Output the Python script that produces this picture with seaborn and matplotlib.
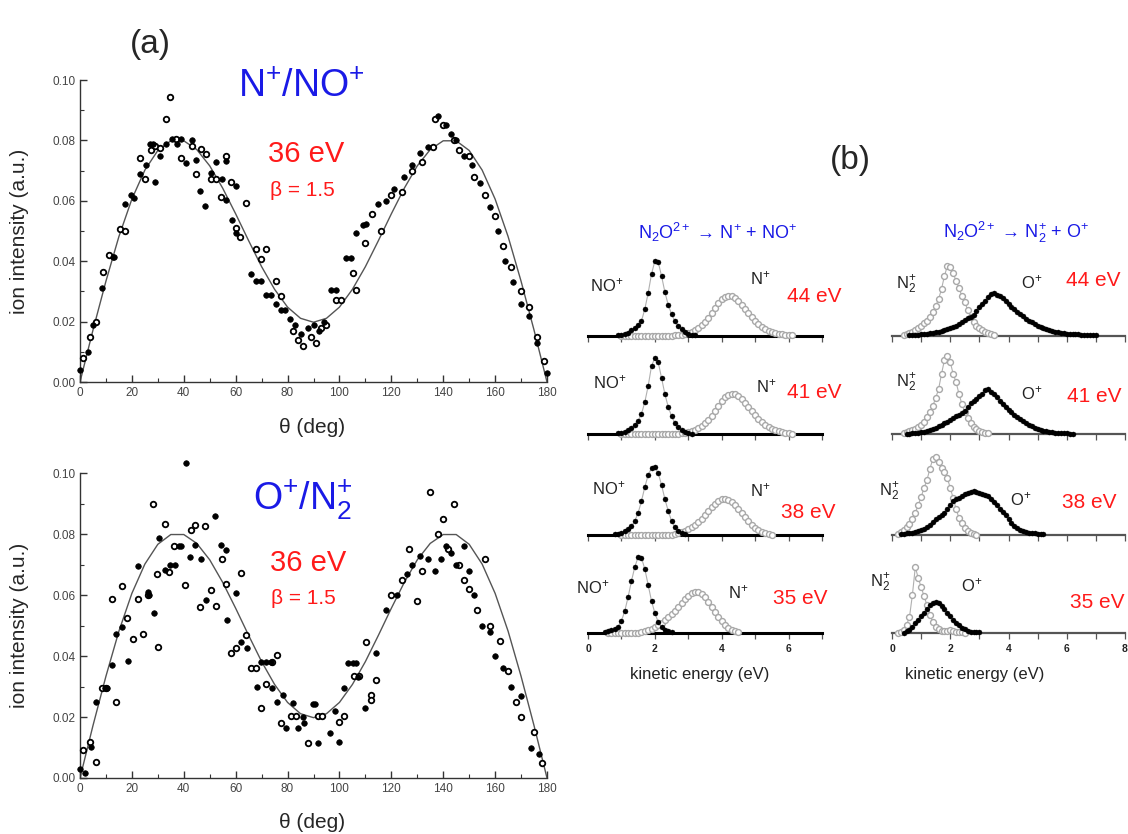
import numpy as np
import pandas as pd
import matplotlib
matplotlib.use("Agg")
import matplotlib.pyplot as plt
from matplotlib.ticker import MultipleLocator
import seaborn as sns

# ---------------- (a) angular distributions at 36 eV ----------------
fit_theta = list(range(0, 181, 5))
fit_val = [0.0, 0.0172, 0.0334, 0.0482, 0.0606, 0.0702, 0.0767, 0.0799, 0.0799,
           0.0770, 0.0716, 0.0642, 0.0557, 0.0468, 0.0382, 0.0307, 0.0248, 0.0211,
           0.0198, 0.0211, 0.0248, 0.0307, 0.0382, 0.0468, 0.0557, 0.0642, 0.0716,
           0.0770, 0.0799, 0.0799, 0.0767, 0.0702, 0.0606, 0.0482, 0.0334, 0.0172, 0.0]

# N+/NO+ channel (theta, intensity)
nno_filled = [(0, 0.004), (3, 0.010), (5, 0.019), (8.6, 0.0312), (12.8, 0.0414), (13.2, 0.0414),
              (17.3, 0.0591), (19.5, 0.0621), (20.8, 0.0611), (23.1, 0.0688), (25.6, 0.072),
              (26.9, 0.0787), (28.0, 0.0787), (29.1, 0.0664), (31.0, 0.075), (33.0, 0.0787),
              (35.3, 0.0806), (37.2, 0.079), (39.1, 0.0806), (40.8, 0.0725), (43.0, 0.080),
              (44.6, 0.0734), (46.2, 0.0632), (48.1, 0.0583), (50.3, 0.0693), (52.3, 0.0728),
              (54.9, 0.0674), (56.2, 0.0732), (56.4, 0.0602), (58.6, 0.0536), (60.3, 0.0649),
              (60.3, 0.0492), (66.0, 0.0359), (67.9, 0.0335), (69.9, 0.0335), (71.8, 0.0288),
              (73.7, 0.0288), (75.4, 0.026), (77.6, 0.024), (79.2, 0.024), (81, 0.021),
              (83, 0.019), (85, 0.016), (88, 0.018), (90, 0.019), (92, 0.017), (94, 0.020),
              (96.8, 0.0304), (98.7, 0.0304), (102.6, 0.041), (104.5, 0.041), (106.4, 0.0492),
              (109.0, 0.0519), (110.3, 0.0525), (114.7, 0.0591), (118, 0.060), (121, 0.064),
              (125, 0.068), (128, 0.072), (131, 0.076), (134, 0.078), (138, 0.088), (141, 0.085),
              (143, 0.082), (145, 0.080), (148, 0.075), (151, 0.072), (154, 0.066), (158, 0.058),
              (161, 0.050), (164, 0.040), (167, 0.033), (170, 0.026), (173, 0.022), (176, 0.013),
              (180, 0.003)]
nno_open = [(1, 0.008), (4, 0.015), (6, 0.020), (8.7, 0.0365), (11.2, 0.0422), (15.4, 0.0506),
            (17.3, 0.050), (23.1, 0.0743), (25.0, 0.0671), (27.2, 0.077), (28.8, 0.0783),
            (31.0, 0.0774), (33.0, 0.0872), (34.6, 0.0943), (37.0, 0.0806), (39.1, 0.0743),
            (43.0, 0.0783), (44.6, 0.069), (46.5, 0.0773), (48.7, 0.0756), (50.4, 0.0673),
            (52.6, 0.0673), (54.5, 0.0613), (56.4, 0.0748), (58.3, 0.0662), (60.0, 0.051),
            (61.8, 0.048), (64.1, 0.0593), (67.9, 0.0441), (69.9, 0.0409), (71.5, 0.0441),
            (75.6, 0.0335), (77.6, 0.0285), (82, 0.017), (84, 0.014), (86, 0.012), (89, 0.015),
            (91, 0.013), (93, 0.018), (95, 0.019), (98.7, 0.0271), (100.6, 0.0271),
            (105.1, 0.0361), (106.4, 0.0304), (110.0, 0.0462), (112.4, 0.0555), (116, 0.050),
            (120, 0.062), (124, 0.063), (128, 0.070), (132, 0.073), (136, 0.078), (137, 0.087),
            (140, 0.085), (144, 0.080), (146, 0.077), (150, 0.075), (152, 0.068), (156, 0.062),
            (160, 0.055), (163, 0.045), (166, 0.038), (170, 0.030), (173, 0.025), (176, 0.015),
            (179, 0.007)]

# O+/N2+ channel (theta, intensity)
on_filled = [(0, 0.003), (1.9, 0.0015), (4.1, 0.0103), (6.2, 0.025), (9.6, 0.0295), (10.5, 0.0295),
             (12.2, 0.037), (13.8, 0.0472), (16.3, 0.0494), (18.6, 0.0385), (22.4, 0.0695),
             (26.3, 0.0612), (26.5, 0.060), (28.6, 0.0542), (30.5, 0.0786), (32.7, 0.0682),
             (34.6, 0.0698), (36.5, 0.0698), (38.1, 0.0762), (38.8, 0.0762), (40.8, 0.1035),
             (42.3, 0.0724), (44.2, 0.0766), (46.8, 0.072), (48.5, 0.0584), (52.2, 0.0859),
             (54.5, 0.0766), (56.4, 0.0748), (56.5, 0.052), (60.3, 0.0606), (62.2, 0.0447),
             (64.4, 0.0425), (68.2, 0.0299), (69.9, 0.0381), (71.8, 0.0381), (73.7, 0.0381),
             (74.1, 0.0294), (76.0, 0.025), (78.2, 0.0272), (79.5, 0.0163), (82.0, 0.0245),
             (84.0, 0.0163), (86.0, 0.0201), (86.5, 0.0181), (89.7, 0.0242), (90.4, 0.0242),
             (91.7, 0.0116), (96.2, 0.0147), (98.1, 0.0221), (99.7, 0.0119), (101.9, 0.0294),
             (103.2, 0.0378), (105.1, 0.0378), (106.4, 0.0378), (107.0, 0.033), (110.0, 0.0229),
             (114.1, 0.041), (118, 0.055), (122, 0.060), (126, 0.067), (128, 0.070), (131, 0.073),
             (134, 0.072), (137, 0.068), (139, 0.072), (141, 0.076), (143, 0.074), (145, 0.070),
             (148, 0.076), (150, 0.068), (152, 0.060), (155, 0.050), (158, 0.048), (160, 0.040),
             (163, 0.036), (166, 0.030), (170, 0.027), (174, 0.010), (177, 0.008)]
on_open = [(1.0, 0.0092), (3.8, 0.0119), (6.2, 0.0053), (8.3, 0.0295), (10.0, 0.0295),
           (12.2, 0.0589), (13.8, 0.025), (16.0, 0.063), (18.2, 0.0526), (20.3, 0.0456),
           (22.2, 0.0589), (24.1, 0.0474), (26.4, 0.0599), (28.2, 0.090), (29.5, 0.0668),
           (30.1, 0.043), (32.7, 0.0833), (34.4, 0.0676), (36.2, 0.0762), (40.4, 0.0633),
           (42.6, 0.0813), (44.2, 0.083), (46.4, 0.0562), (48.3, 0.0827), (50.4, 0.0616),
           (52.3, 0.0565), (54.9, 0.072), (56.2, 0.0638), (58.3, 0.0409), (60.3, 0.0428),
           (62.2, 0.0674), (64.1, 0.0469), (66.0, 0.036), (67.9, 0.036), (69.9, 0.0229),
           (71.8, 0.0307), (74.1, 0.0381), (76.0, 0.0403), (77.6, 0.0181), (81.4, 0.0203),
           (83.3, 0.0203), (87.8, 0.0116), (91.7, 0.0203), (93.3, 0.0203), (99.7, 0.0183),
           (101.7, 0.0203), (105.8, 0.0334), (107.7, 0.0334), (110.3, 0.0447), (112.2, 0.0272),
           (112.2, 0.0256), (114.1, 0.0321), (120, 0.060), (124, 0.065), (127, 0.075),
           (130, 0.058), (132, 0.068), (135, 0.094), (138, 0.080), (140, 0.085), (142, 0.075),
           (144, 0.090), (146, 0.070), (148, 0.065), (150, 0.062), (153, 0.055), (156, 0.072),
           (158, 0.050), (162, 0.045), (165, 0.035), (168, 0.025), (170, 0.020), (175, 0.015),
           (178, 0.005)]

# ---------------- (b) kinetic energy release, (start eV, 0.1 eV bins) ----------------
energies = ["44 eV", "41 eV", "38 eV", "35 eV"]
no_start = [0.9, 0.9, 0.8, 0.5]
no_vals = [
    [1, 1, 2, 3, 6, 8, 11, 15, 27, 43, 62, 75, 74, 60, 44, 31, 22, 15, 10, 7, 4, 2, 1, 0.5],
    [1, 1, 2, 4, 6, 9, 13, 20, 32, 48, 68, 76, 72, 56, 40, 27, 18, 11, 7, 4, 2, 1, 0.5],
    [1, 1, 2, 4, 6, 9, 14, 22, 34, 48, 60, 67, 68, 62, 50, 36, 24, 14, 8, 4, 2, 1],
    [1, 2, 3, 4, 6, 12, 22, 36, 52, 66, 76, 75, 64, 48, 32, 20, 11, 6, 3, 2, 1],
]
n_start = [1.0, 1.0, 1.0, 0.6]
n_vals = [
    [0, 0, 0, 0, 0, 0, 0, 0, 0, 0, 0, 0, 0, 0, 0, 0, 0.5, 1, 1, 2, 3, 4, 6, 8, 11, 14, 18, 23, 28,
     33, 37, 39, 40, 40, 38, 35, 31, 27, 23, 19, 15, 12, 9, 7, 5, 4, 3, 2, 1.5, 1, 1, 0.5],
    [0, 0, 0, 0, 0, 0, 0, 0, 0, 0, 0, 0, 0, 0, 0, 0, 0, 0.5, 1, 1, 2, 3, 4, 6, 8, 11, 14, 18, 23,
     28, 33, 37, 39, 40, 40, 38, 35, 31, 27, 23, 19, 15, 12, 9, 7, 5, 4, 3, 2, 1.5, 1, 0.5],
    [0, 0, 0, 0, 0, 0, 0, 0, 0, 0, 0, 0, 0, 0, 0, 0.5, 1, 2, 3, 4, 6, 8, 10, 13, 16, 20, 24, 28,
     31, 34, 36, 36, 35, 33, 30, 26, 22, 18, 14, 10, 7, 5, 3, 2, 1, 0.5],
    [0, 0, 0, 0, 0, 0, 0, 0, 0, 0, 1, 2, 3, 4, 6, 8, 10, 13, 16, 19, 22, 26, 30, 34, 37, 40, 41,
     41, 39, 36, 31, 26, 21, 16, 12, 8, 5, 3, 2, 1],
]
n2_start = [0.4, 0.4, 0.2, 0.2]
n2_vals = [
    [1, 2, 3, 4, 6, 8, 10, 13, 15, 19, 24, 30, 37, 47, 60, 70, 69, 63, 55, 48, 40, 34, 26, 19,
     14, 10, 8, 6, 4, 3, 2, 1],
    [1, 2, 3, 4, 5, 7, 9, 12, 17, 22, 28, 36, 45, 60, 74, 78, 72, 60, 52, 40, 30, 22, 16, 11, 7,
     5, 3, 2, 1, 1],
    [1, 3, 5, 8, 11, 16, 22, 30, 38, 47, 55, 66, 76, 78, 73, 67, 63, 57, 47, 37, 26, 17, 12, 7,
     4, 2, 1, 0.5],
    [0.5, 1, 3, 8, 16, 38, 66, 55, 46, 37, 28, 18, 11, 6, 4, 2, 2, 2, 3, 2, 1, 1, 1, 0.5],
]
o_start = [0.6, 0.5, 0.3, 0.4]
o_vals = [
    [0.5, 0.5, 1, 1, 1.5, 2, 2, 2.5, 3, 3.5, 4, 5, 6, 7, 8, 9, 10, 12, 14, 16, 18, 19, 21, 25, 29,
     32, 35, 39, 42, 43, 41, 40, 38, 35, 32, 29, 27, 24, 22, 20, 17, 15, 14, 12, 10, 9, 8, 7, 6,
     5, 4, 4, 3, 3, 2, 2, 2, 1.5, 1.5, 1, 1, 1, 1, 0.5, 0.5],
    [0.5, 0.5, 1, 1, 1.5, 2, 2.5, 3, 4, 5, 6, 8, 9, 11, 12, 14, 16, 18, 19, 21, 23, 27, 31, 33, 35,
     38, 40, 44, 45, 42, 40, 37, 33, 30, 27, 24, 22, 19, 17, 15, 13, 11, 9, 8, 6, 5, 4, 3, 3, 2,
     2, 1.5, 1.5, 1, 1, 1, 0.5, 0.5],
    [1, 1.5, 2, 2, 2.5, 3, 4, 5, 6, 8, 10, 13, 16, 18, 20, 22, 26, 30, 34, 36, 37, 39, 41, 42, 43,
     44, 43, 42, 41, 40, 39, 36, 33, 30, 26, 23, 20, 16, 12, 9, 7, 5, 4, 3, 2.5, 2, 2, 1.5, 1.5, 1],
    [0.5, 2, 3, 6, 10, 13, 17, 20, 24, 28, 30, 31, 30, 27, 24, 20, 17, 13, 10, 8, 5, 4, 2, 1.5, 1,
     1, 1],
]


def bins(start, vals):
    return pd.DataFrame({"ke": start + 0.1 * np.arange(len(vals)), "y": vals})


def pairs(points):
    return pd.DataFrame(points, columns=["theta", "val"])


W, H = 1128, 834
sns.set_theme(style="white")
plt.rcParams["font.family"] = ["Liberation Sans", "DejaVu Sans"]
plt.rcParams["mathtext.fontset"] = "custom"
plt.rcParams["mathtext.rm"] = "Liberation Sans"
plt.rcParams["mathtext.it"] = "Liberation Sans:italic"
plt.rcParams["mathtext.bf"] = "Liberation Sans:bold"

fig = plt.figure(figsize=(W / 100, H / 100), dpi=100)
fig.patch.set_facecolor("white")


def px_axes(x0, x1, ytop, ybot):
    return fig.add_axes([x0 / W, 1 - ybot / H, (x1 - x0) / W, (ybot - ytop) / H])


def ftext(x, y, s, **kw):
    fig.text(x / W, 1 - y / H, s, **kw)


BLUE = "#1a1ae6"
RED = "#ff1a1a"

# ---------------- left column ----------------
for (ytop, ybot, filled, opened) in [(62, 382, nno_filled, nno_open),
                                     (455, 778, on_filled, on_open)]:
    ax = px_axes(80, 547, ytop, ybot)
    ax.set_facecolor("none")
    sns.lineplot(x=fit_theta, y=fit_val, ax=ax, color="#555555", lw=1.0)
    df = pairs(opened)
    sns.scatterplot(data=df, x="theta", y="val", ax=ax, color="white", edgecolor="black",
                    linewidth=1.3, s=16, clip_on=False, zorder=3)
    df = pairs(filled)
    sns.scatterplot(data=df, x="theta", y="val", ax=ax, color="black", edgecolor="black",
                    linewidth=0.5, s=16, clip_on=False, zorder=4)
    ax.set_xlim(0, 180)
    ax.set_ylim(0, 0.106)
    for s in ["top", "right"]:
        ax.spines[s].set_visible(False)
    for s in ["left", "bottom"]:
        ax.spines[s].set_color("#333333")
        ax.spines[s].set_linewidth(1.0)
    ax.spines["left"].set_bounds(0, 0.10)
    ax.xaxis.set_major_locator(MultipleLocator(20))
    ax.xaxis.set_minor_locator(MultipleLocator(10))
    ax.yaxis.set_major_locator(MultipleLocator(0.02))
    ax.yaxis.set_minor_locator(MultipleLocator(0.01))
    ax.set_yticks([0, 0.02, 0.04, 0.06, 0.08, 0.10])
    ax.set_yticklabels(["0.00", "0.02", "0.04", "0.06", "0.08", "0.10"])
    ax.tick_params(which="major", direction="in", length=5, width=1, colors="#333333",
                   labelsize=8.5, labelcolor="#444444", bottom=True, left=True)
    ax.tick_params(which="minor", direction="in", length=3, width=0.8, colors="#333333",
                   bottom=True, left=True)
    ax.set_xlabel("")
    ax.set_ylabel("")

ftext(20, 231, "ion intensity (a.u.)", rotation=90, fontsize=15, ha="center", va="center")
ftext(20, 625, "ion intensity (a.u.)", rotation=90, fontsize=15, ha="center", va="center")
ftext(312, 427, "θ (deg)", fontsize=15, ha="center", va="center")
ftext(312, 823, "θ (deg)", fontsize=15, ha="center", va="center")

ftext(150, 45, "(a)", fontsize=24, ha="center", va="center")
ftext(850, 160, "(b)", fontsize=24, ha="center", va="center")

ftext(238, 87, "N$^{+}$/NO$^{+}$", fontsize=27, color=BLUE, ha="left", va="center")
ftext(268, 154, "36 eV", fontsize=21, color=RED, ha="left", va="center")
ftext(270, 190, "β = 1.5", fontsize=15, color=RED, ha="left", va="center")
ftext(253, 500, "O$^{+}$/N$_{2}^{+}$", fontsize=27, color=BLUE, ha="left", va="center")
ftext(270, 563, "36 eV", fontsize=21, color=RED, ha="left", va="center")
ftext(271, 598, "β = 1.5", fontsize=15, color=RED, ha="left", va="center")

# ---------------- right columns ----------------
baselines = [336, 434, 535, 633]
ftext(718, 232, "N$_2$O$^{2+}$ → N$^{+}$ + NO$^{+}$", fontsize=13, color=BLUE,
      ha="center", va="center")
ftext(1016, 232, "N$_2$O$^{2+}$ → N$_2^{+}$ + O$^{+}$", fontsize=13, color=BLUE,
      ha="center", va="center")

no_lab = [(607, 285), (610, 382), (609, 488), (593, 587)]
n_lab = [(760, 278), (766, 386), (760, 490), (738, 592)]
e_lab_l = [(787, 297), (787, 393), (781, 513), (773, 598)]
n2_lab = [(906, 285), (906, 383), (889, 492), (880, 583)]
o_lab = [(1032, 282), (1032, 393), (1021, 499), (972, 585)]
e_lab_r = [(1066, 280), (1067, 397), (1062, 503), (1070, 602)]

for i, base in enumerate(baselines):
    for col in range(2):
        if col == 0:
            ax = px_axes(588, 822, base - 85, base)
            xmax = 7
            open_df = bins(n_start[i], n_vals[i])
            fill_df = bins(no_start[i], no_vals[i])
        else:
            ax = px_axes(892, 1125, base - 85, base)
            xmax = 8
            open_df = bins(n2_start[i], n2_vals[i])
            fill_df = bins(o_start[i], o_vals[i])
        ax.set_facecolor("none")
        sns.lineplot(data=open_df, x="ke", y="y", ax=ax, color="#b0b0b0", lw=0.8)
        sns.lineplot(data=fill_df, x="ke", y="y", ax=ax, color="#b0b0b0", lw=0.8)
        sns.scatterplot(data=open_df, x="ke", y="y", ax=ax, color="white", edgecolor="#a8a8a8",
                        linewidth=1.0, s=18, zorder=3, clip_on=False)
        sns.scatterplot(data=fill_df, x="ke", y="y", ax=ax, color="black", edgecolor="black",
                        linewidth=0.3, s=13, zorder=4, clip_on=False)
        ax.set_xlim(0, xmax)
        ax.set_ylim(0, 85)
        for s in ["top", "right", "left"]:
            ax.spines[s].set_visible(False)
        ax.spines["bottom"].set_color("black" if col == 0 else "#555555")
        ax.spines["bottom"].set_linewidth(2.2 if col == 0 else 1.6)
        ax.set_yticks([])
        ax.xaxis.set_major_locator(MultipleLocator(2))
        ax.xaxis.set_minor_locator(MultipleLocator(1))
        ax.tick_params(which="both", direction="out", length=4, width=0.9, colors="#555555",
                       bottom=True, labelsize=7.5, labelcolor="#222222", pad=4)
        if i < 3:
            ax.set_xticklabels([])
        else:
            for lab in ax.get_xticklabels():
                lab.set_fontweight("bold")
        ax.set_xlabel("")
        ax.set_ylabel("")

    ftext(*no_lab[i], "NO$^{+}$", fontsize=12, ha="center", va="center", color="#222222")
    ftext(*n_lab[i], "N$^{+}$", fontsize=12, ha="center", va="center", color="#222222")
    ftext(*e_lab_l[i], energies[i], fontsize=15, ha="left", va="center", color=RED)
    ftext(*n2_lab[i], "N$_2^{+}$", fontsize=12, ha="center", va="center", color="#222222")
    ftext(*o_lab[i], "O$^{+}$", fontsize=12, ha="center", va="center", color="#222222")
    ftext(*e_lab_r[i], energies[i], fontsize=15, ha="left", va="center", color=RED)

ftext(700, 675, "kinetic energy (eV)", fontsize=12, ha="center", va="center", color="#222222")
ftext(975, 675, "kinetic energy (eV)", fontsize=12, ha="center", va="center", color="#222222")

fig.savefig("out.png", dpi=100, facecolor="white")
